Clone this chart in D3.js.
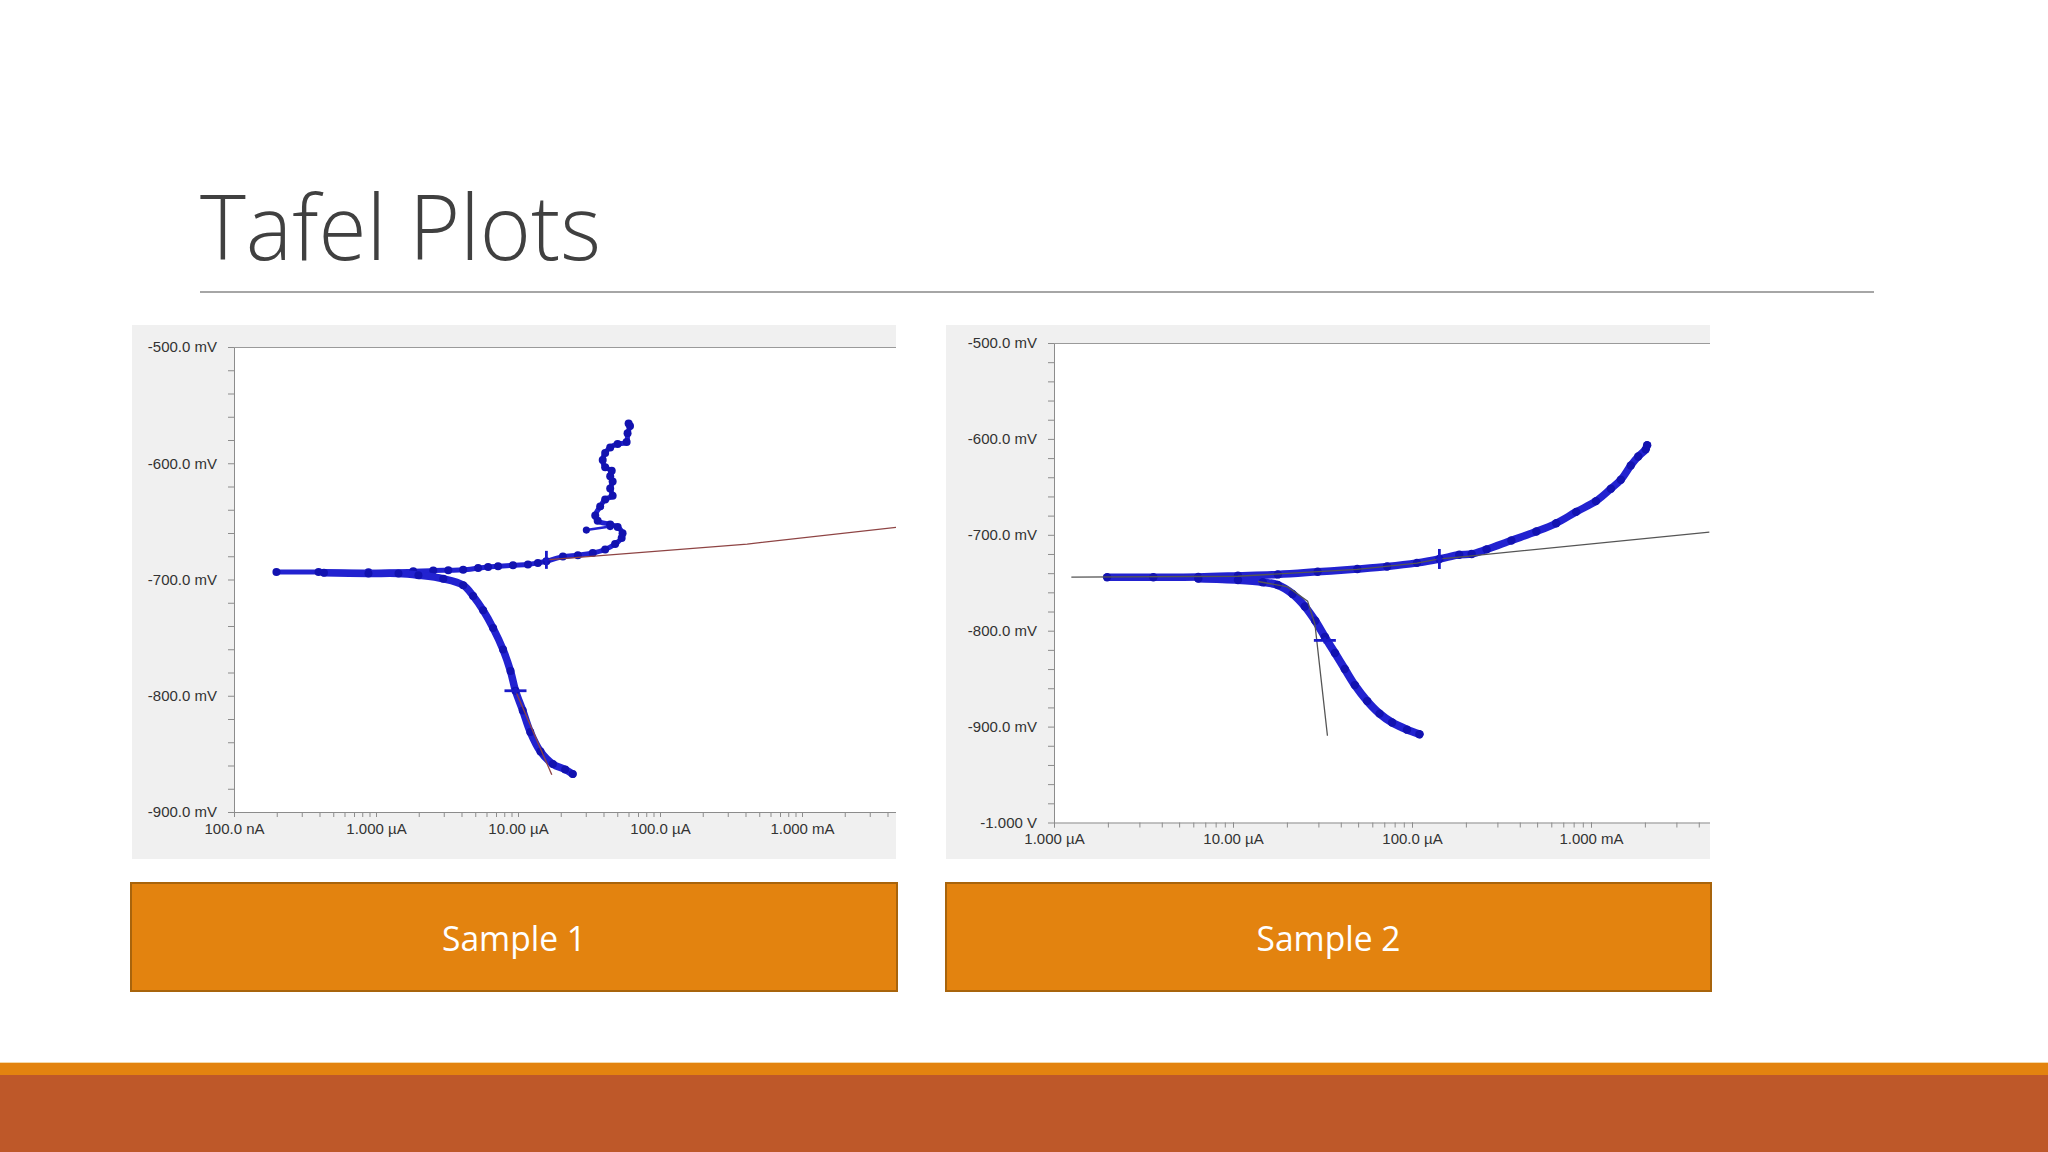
<!DOCTYPE html>
<html><head><meta charset="utf-8">
<script src="https://cdn.jsdelivr.net/npm/d3@7"></script>
<style>html,body{margin:0;padding:0;background:#fff;}svg{display:block;}</style>
</head><body>
<svg id="s" width="2048" height="1152"></svg>
<script>
// ---------------- DATA (current in µA, potential in mV) ----------------
const TITLE = "Tafel Plots";
const SAMPLE_LABELS = ["Sample 1", "Sample 2"];

// Sample 1
const S1_ANODIC_I = [0.199,0.394,0.885,1.83,2.53,3.23,4.11,5.24,6.16,7.24,9.22,11.75,13.8,15.85,20.7,26.4,33.6,41.1,48.3,53.7,54.5,50.3,44.6,36.4,35.0,37.9,41.1,46.4,44.6,46.4,44.6,45.7,41.1,39.5,41.1,44.6,50.3,58.2,59.1,61.5,60.1];
const S1_ANODIC_E = [-693.5,-693.5,-693.8,-692.9,-692.3,-692.0,-691.7,-690.2,-689.2,-688.6,-687.7,-687.1,-685.8,-684.3,-680.3,-679.1,-677.2,-674.2,-669.5,-664.3,-660.3,-654.8,-652.6,-649.5,-644.9,-637.2,-631.1,-628.0,-621.8,-615.7,-611.1,-606.5,-603.4,-597.2,-591.1,-586.5,-583.4,-581.8,-574.2,-568.0,-565.8];
const S1_SPUR_I = [30.3, 44.6];
const S1_SPUR_E = [-657.5, -654.5];
const S1_CATHODIC_I = [0.43,0.885,1.44,1.99,2.98,4.11,4.83,5.68,6.68,7.85,8.86,9.60,10.8,12.2,14.4,17.6,21.5,24.3];
const S1_CATHODIC_E = [-694.2,-694.8,-694.8,-696.3,-699.4,-704.9,-714.2,-726.5,-741.8,-760.3,-778.8,-795.7,-812.6,-831.1,-848.0,-858.8,-863.4,-867.4];
const S1_FIT_A_I = [15.85, 411, 4640];
const S1_FIT_A_E = [-683.1, -669.5, -655.1];
const S1_FIT_C_I = [9.60, 17.3];
const S1_FIT_C_E = [-795.7, -868.0];
const S1_CROSS_A = [15.85, -683.1];
const S1_CROSS_C = [9.60, -795.7];
const S1_X_TICKS = [0.1, 1, 10, 100, 1000];
const S1_X_LABELS = ["100.0 nA", "1.000 µA", "10.00 µA", "100.0 µA", "1.000 mA"];
const S1_Y_TICKS = [-500, -600, -700, -800, -900];
const S1_Y_LABELS = ["-500.0 mV", "-600.0 mV", "-700.0 mV", "-800.0 mV", "-900.0 mV"];

// Sample 2
const S2_ANODIC_I = [1.98,3.59,6.40,10.66,17.8,29.7,49.5,72.6,106.6,142.2,183.6,215.4,261,359,495,639,826,1066,1292,1468,1668,1836,2021,2060];
const S2_ANODIC_E = [-744.2,-744.2,-743.9,-742.7,-741.3,-738.6,-735.7,-733.1,-729.3,-725.2,-720.8,-720.0,-715.2,-705.9,-696.6,-688.0,-676.1,-664.9,-651.9,-642.6,-627.7,-618.4,-610.9,-606.5];
const S2_CATHODIC_I = [6.40,10.66,14.68,17.8,21.5,25.2,28.8,32.6,37.1,42.1,47.9,56.2,65.9,77.4,93.8,110.1];
const S2_CATHODIC_E = [-745.7,-747.2,-749.4,-752.4,-761.7,-774.8,-789.7,-806.4,-823.2,-839.9,-856.7,-873.4,-886.5,-895.8,-903.2,-908.0];
const S2_FIT_A_I = [1.25, 10.66, 49.5, 106.6, 142.2, 177.8, 4582];
const S2_FIT_A_E = [-744.2, -743.2, -736.0, -729.5, -725.2, -723.5, -697.3];
const S2_FIT_C_I = [13.8, 20.2, 26.1, 28.7, 33.7];
const S2_FIT_C_E = [-748.7, -754.3, -769.2, -793.4, -909.5];
const S2_CROSS_A = [142.2, -725.2];
const S2_CROSS_C = [32.6, -810.1];
const S2_X_TICKS = [1, 10, 100, 1000];
const S2_X_LABELS = ["1.000 µA", "10.00 µA", "100.0 µA", "1.000 mA"];
const S2_Y_TICKS = [-500, -600, -700, -800, -900, -1000];
const S2_Y_LABELS = ["-500.0 mV", "-600.0 mV", "-700.0 mV", "-800.0 mV", "-900.0 mV", "-1.000 V"];

// ---------------- DRAWING ----------------
const svg = d3.select("#s");
const FONT = "'Liberation Sans', Arial, sans-serif";
const pts = (I, E) => d3.zip(I, E).map(([i, e]) => ({I: i, E: e}));

// Title
svg.append("text").attr("x", 200).attr("y", 260)
  .attr("font-family", "'Open Sans', sans-serif").attr("font-weight", 300)
  .attr("font-size", 91).attr("fill", "#404040")
  .attr("textLength", 401).attr("lengthAdjust", "spacingAndGlyphs")
  .text(TITLE);
svg.append("line").attr("x1", 200).attr("x2", 1874).attr("y1", 292).attr("y2", 292)
  .attr("stroke", "#a6a6a6").attr("stroke-width", 2);

function drawChart(cfg, id) {
  const g = svg.append("g");
  g.append("rect").attr("x", cfg.panel[0]).attr("y", cfg.panel[1])
    .attr("width", cfg.panel[2] - cfg.panel[0]).attr("height", cfg.panel[3] - cfg.panel[1])
    .attr("fill", "#f0f0f0");
  const [L, T, R, B] = cfg.plot;
  g.append("rect").attr("x", L).attr("y", T).attr("width", R - L).attr("height", B - T).attr("fill", "#ffffff");

  const x = d3.scaleLog().domain(cfg.xDomain).range(cfg.xRange);
  const y = d3.scaleLinear().domain(cfg.yDomain).range([B, T]);

  // minor x ticks
  const xMax = x.invert(R);
  const minor = [];
  for (let dec = cfg.xDomain[0]; dec < xMax; dec *= 10)
    for (let m = 1; m <= 9; m++) { const v = dec * m; if (v <= xMax * 0.999) minor.push(v); }
  const axMinor = g.append("g").attr("transform", `translate(0,${B})`)
    .call(d3.axisBottom(x).tickValues(minor).tickSize(5).tickSizeOuter(0).tickFormat(""));
  axMinor.select(".domain").remove();
  axMinor.selectAll("line").attr("stroke", "#8c8c8c");

  const axX = g.append("g").attr("transform", `translate(0,${B})`)
    .call(d3.axisBottom(x).tickValues(cfg.xTicks).tickSize(5).tickPadding(6).tickSizeOuter(0)
      .tickFormat((d, i) => cfg.xLabels[i]));
  axX.select(".domain").attr("stroke", "#8c8c8c").attr("d", `M${L},0.5H${R}`);
  axX.selectAll("line").attr("stroke", "#8c8c8c");
  axX.selectAll("text").attr("font-family", FONT).attr("font-size", 15).attr("fill", "#333");

  // y ticks every 20 mV
  const yMinor = d3.range(cfg.yDomain[1], cfg.yDomain[0] - 0.1, -20);
  const axY = g.append("g").attr("transform", `translate(${L},0)`)
    .call(d3.axisLeft(y).tickValues(yMinor).tickSize(6).tickPadding(11).tickSizeOuter(0)
      .tickFormat(d => { const k = cfg.yTicks.indexOf(d); return k >= 0 ? cfg.yLabels[k] : ""; }));
  axY.select(".domain").attr("stroke", "#8c8c8c");
  axY.selectAll("line").attr("stroke", "#8c8c8c");
  axY.selectAll("text").attr("font-family", FONT).attr("font-size", 15).attr("fill", "#333");

  // top border
  g.append("line").attr("x1", L).attr("x2", R).attr("y1", T + 0.5).attr("y2", T + 0.5)
    .attr("stroke", "#9a9a9a").attr("stroke-width", 1);

  // clip
  svg.append("clipPath").attr("id", "clip" + id).append("rect")
    .attr("x", L).attr("y", T).attr("width", R - L).attr("height", B - T);
  const pg = g.append("g").attr("clip-path", `url(#clip${id})`);

  const line = d3.line().x(d => x(d.I)).y(d => y(d.E)).curve(d3.curveCatmullRom.alpha(0.5));
  const lin = d3.line().x(d => x(d.I)).y(d => y(d.E));

  cfg.series.forEach(s => {
    const p = pts(s.I, s.E);
    pg.append("path").attr("d", line(p)).attr("fill", "none")
      .attr("stroke", "#2222d0").attr("stroke-width", s.w)
      .attr("stroke-linejoin", "round").attr("stroke-linecap", "round");
    pg.selectAll(null).data(p).enter().append("circle")
      .attr("cx", d => x(d.I)).attr("cy", d => y(d.E)).attr("r", s.r).attr("fill", "#1212b0");
  });
  cfg.fits.forEach(f => {
    pg.append("path").attr("d", lin(pts(f.I, f.E))).attr("fill", "none")
      .attr("stroke", cfg.fitColor).attr("stroke-width", 1.3);
  });
  cfg.crosses.forEach(c => {
    const cx = x(c.p[0]), cy = y(c.p[1]);
    pg.append("line").attr("x1", cx - c.h).attr("x2", cx + c.h).attr("y1", cy).attr("y2", cy)
      .attr("stroke", "#1a1ac8").attr("stroke-width", 2.8);
    pg.append("line").attr("x1", cx).attr("x2", cx).attr("y1", cy - c.v).attr("y2", cy + c.v)
      .attr("stroke", "#1a1ac8").attr("stroke-width", 2.8);
  });
}

drawChart({
  panel: [132, 325, 896, 859],
  plot: [234, 347, 896, 812],
  xDomain: [0.1, 1000], xRange: [234, 802],
  yDomain: [-900, -500],
  xTicks: S1_X_TICKS, xLabels: S1_X_LABELS, yTicks: S1_Y_TICKS, yLabels: S1_Y_LABELS,
  fitColor: "#8e4444",
  series: [
    {I: S1_ANODIC_I, E: S1_ANODIC_E, w: 5, r: 4},
    {I: S1_SPUR_I, E: S1_SPUR_E, w: 2.5, r: 3.6},
    {I: S1_CATHODIC_I, E: S1_CATHODIC_E, w: 7.5, r: 4}
  ],
  fits: [{I: S1_FIT_A_I, E: S1_FIT_A_E}, {I: S1_FIT_C_I, E: S1_FIT_C_E}],
  crosses: [{p: S1_CROSS_A, h: 3, v: 9}, {p: S1_CROSS_C, h: 11, v: 3}]
}, 1);

drawChart({
  panel: [946, 325, 1710, 859],
  plot: [1054, 343, 1710, 822.5],
  xDomain: [1, 1000], xRange: [1054, 1591],
  yDomain: [-1000, -500],
  xTicks: S2_X_TICKS, xLabels: S2_X_LABELS, yTicks: S2_Y_TICKS, yLabels: S2_Y_LABELS,
  fitColor: "#555555",
  series: [
    {I: S2_ANODIC_I, E: S2_ANODIC_E, w: 7.5, r: 4.2},
    {I: S2_CATHODIC_I, E: S2_CATHODIC_E, w: 8, r: 4.2}
  ],
  fits: [{I: S2_FIT_A_I, E: S2_FIT_A_E}, {I: S2_FIT_C_I, E: S2_FIT_C_E}],
  crosses: [{p: S2_CROSS_A, h: 3, v: 10}, {p: S2_CROSS_C, h: 11, v: 3}]
}, 2);

// Sample buttons
[[131, 897], [946, 1711]].forEach(([x0, x1], i) => {
  svg.append("rect").attr("x", x0).attr("y", 883).attr("width", x1 - x0).attr("height", 108)
    .attr("fill", "#e3830f").attr("stroke", "#a8640c").attr("stroke-width", 2);
  svg.append("text").attr("x", (x0 + x1) / 2).attr("y", 951).attr("text-anchor", "middle")
    .attr("font-family", "'Open Sans', sans-serif").attr("font-size", 35).attr("fill", "#ffffff")
    .attr("textLength", 144).attr("lengthAdjust", "spacingAndGlyphs")
    .text(SAMPLE_LABELS[i]);
});

// Footer bands
svg.append("rect").attr("x", 0).attr("y", 1062).attr("width", 2048).attr("height", 1).attr("fill", "#f5d9a8");
svg.append("rect").attr("x", 0).attr("y", 1063).attr("width", 2048).attr("height", 12).attr("fill", "#e3830f");
svg.append("rect").attr("x", 0).attr("y", 1075).attr("width", 2048).attr("height", 77).attr("fill", "#be5829");
</script>
</body></html>
